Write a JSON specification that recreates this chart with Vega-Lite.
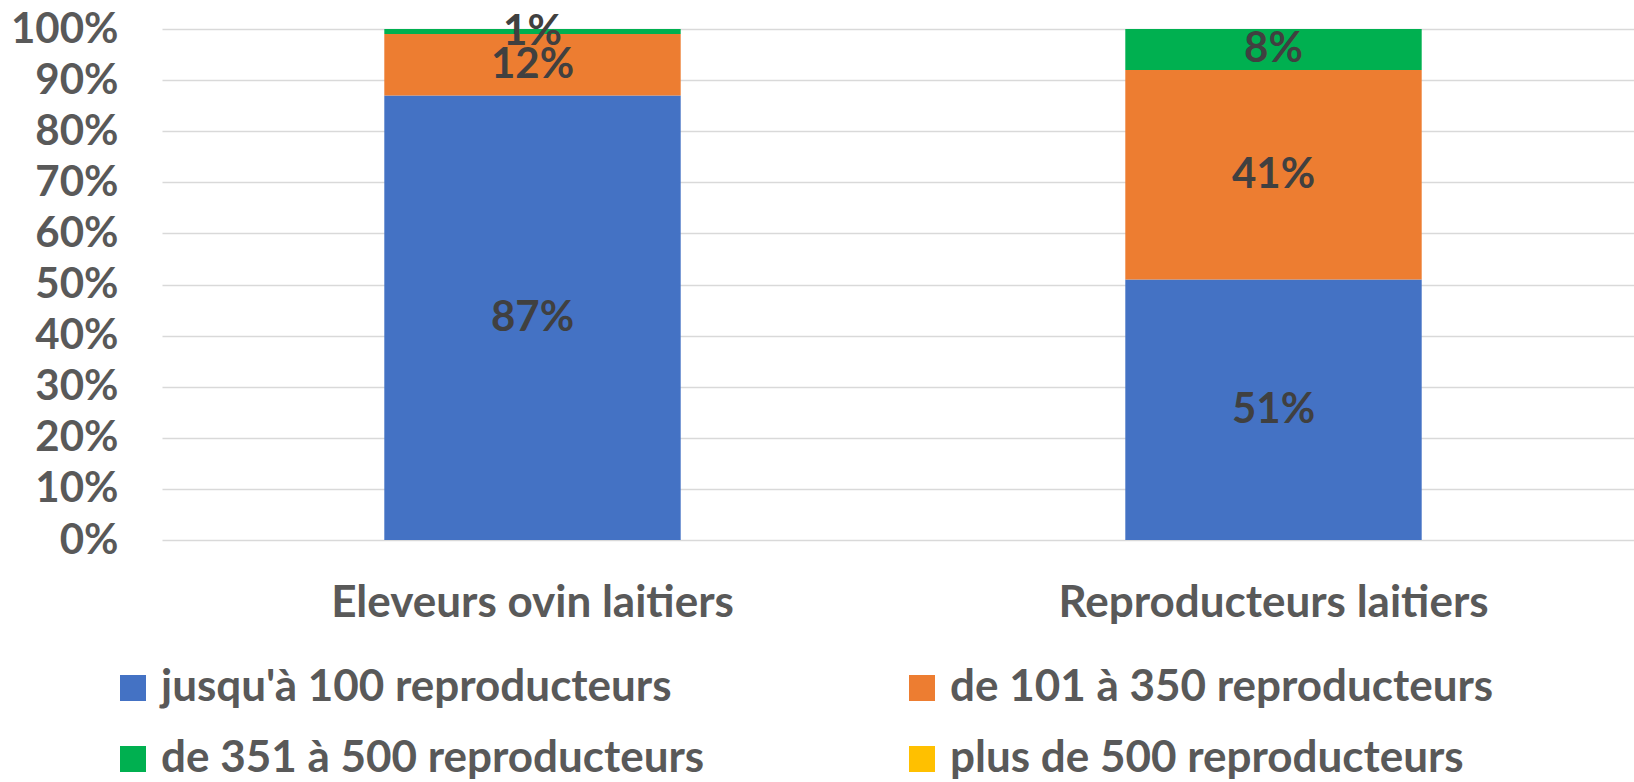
{
  "$schema": "https://vega.github.io/schema/vega-lite/v6.json",
  "width": 1472,
  "height": 511,
  "autosize": "none",
  "padding": {"left": 162, "top": 29, "right": 0, "bottom": 242},
  "background": "white",
  "config": {"view": {"stroke": null}, "font": "Lato"},
  "data": {"values": [
    {"cat": "Eleveurs ovin laitiers", "taille": "jusqu'à 100 reproducteurs", "k": 1, "v": 0.87},
    {"cat": "Eleveurs ovin laitiers", "taille": "de 101 à 350 reproducteurs", "k": 2, "v": 0.12},
    {"cat": "Eleveurs ovin laitiers", "taille": "de 351 à 500 reproducteurs", "k": 3, "v": 0.01},
    {"cat": "Eleveurs ovin laitiers", "taille": "plus de 500 reproducteurs", "k": 4, "v": 0},
    {"cat": "Reproducteurs laitiers", "taille": "jusqu'à 100 reproducteurs", "k": 1, "v": 0.51},
    {"cat": "Reproducteurs laitiers", "taille": "de 101 à 350 reproducteurs", "k": 2, "v": 0.41},
    {"cat": "Reproducteurs laitiers", "taille": "de 351 à 500 reproducteurs", "k": 3, "v": 0.08},
    {"cat": "Reproducteurs laitiers", "taille": "plus de 500 reproducteurs", "k": 4, "v": 0}
  ]},
  "transform": [
    {"stack": "v", "groupby": ["cat"], "sort": [{"field": "k", "order": "ascending"}], "as": ["y0", "y1"]},
    {"calculate": "(datum.y0 + datum.y1) / 2", "as": "mid"}
  ],
  "encoding": {
    "x": {
      "field": "cat", "type": "nominal", "sort": null,
      "scale": {"paddingInner": 0.6, "paddingOuter": 0.3, "range": [0, 1482]},
      "axis": {
        "title": null, "labelAngle": 0, "grid": false,
        "domain": false,
        "ticks": false, "tickSize": 0,
        "labelFont": "Lato", "labelFontWeight": "bold", "labelFontSize": 44, "labelLimit": 1000,
        "labelColor": "#595959", "labelBaseline": "alphabetic", "labelPadding": 76
      }
    }
  },
  "layer": [
    {
      "mark": {"type": "bar"},
      "encoding": {
        "y": {
          "field": "y0", "type": "quantitative",
          "scale": {"domain": [0, 1], "nice": false},
          "axis": {
            "title": null, "format": ".0%", "values": [0, 0.1, 0.2, 0.3, 0.4, 0.5, 0.6, 0.7, 0.8, 0.9, 1],
            "grid": true, "gridColor": "#D9D9D9", "gridWidth": 1.5,
            "domain": false, "ticks": false, "tickSize": 0,
            "labelFont": "Lato", "labelFontWeight": "bold", "labelFontSize": 42,
            "labelColor": "#595959", "labelPadding": 44
          }
        },
        "y2": {"field": "y1"},
        "color": {
          "field": "taille", "type": "nominal",
          "scale": {
            "domain": ["jusqu'à 100 reproducteurs", "de 101 à 350 reproducteurs", "de 351 à 500 reproducteurs", "plus de 500 reproducteurs"],
            "range": ["#4472C4", "#ED7D31", "#00B050", "#FFC000"]
          },
          "legend": {
            "title": null, "orient": "none", "legendX": -51, "legendY": 637,
            "columns": 2, "direction": "horizontal",
            "symbolType": "square", "symbolSize": 676, "symbolStrokeWidth": 0, "symbolOpacity": 1,
            "labelFont": "Lato", "labelFontWeight": "bold", "labelFontSize": 44,
            "labelColor": "#595959", "labelOffset": 6, "labelLimit": 1000,
            "rowPadding": 27, "columnPadding": 195, "padding": 0
          }
        }
      }
    },
    {
      "transform": [{"filter": "datum.v > 0"}],
      "mark": {"type": "text", "font": "Lato", "fontWeight": "bold", "fontSize": 42, "color": "#404040", "baseline": "middle", "align": "center"},
      "encoding": {
        "y": {"field": "mid", "type": "quantitative"},
        "text": {"field": "v", "type": "quantitative", "format": ".0%"}
      }
    }
  ]
}
